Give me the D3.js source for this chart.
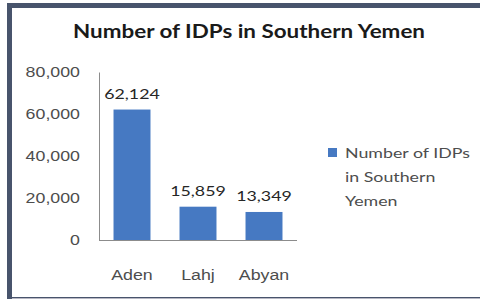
<!DOCTYPE html>
<html>
<head>
<meta charset="utf-8">
<script src="https://cdn.jsdelivr.net/npm/d3@7"></script>
<style>
  html, body { margin: 0; padding: 0; background: #fff; }
  svg { display: block; font-family: Lato, "Open Sans", sans-serif; }
</style>
</head>
<body>
<svg id="chart" width="480" height="299"></svg>
<script>
const categories = ['Aden', 'Lahj', 'Abyan'];
const values = [62124, 15859, 13349];
const yTicks = [0, 20000, 40000, 60000, 80000];
const title = 'Number of IDPs in Southern Yemen';
const legendLines = ['Number of IDPs', 'in Southern', 'Yemen'];

const W = 480, H = 299;
const svg = d3.select('#chart');
const BLUE = '#4679c2';
const TXT = '#4d4d4d';
const WIDEN = 1.27; // the picture is stretched sideways, so widen the glyphs

function widen(sel, k) {
  sel.each(function () {
    const len = this.getComputedTextLength();
    d3.select(this).attr('textLength', len * k).attr('lengthAdjust', 'spacingAndGlyphs');
  });
}

// frame
svg.append('rect').attr('x', 7).attr('y', 3).attr('width', W - 7).attr('height', H - 3).attr('fill', '#48546c');
svg.append('rect').attr('x', 12).attr('y', 8).attr('width', W - 12).attr('height', H - 10).attr('fill', '#fff');
svg.append('line').attr('x1', 12).attr('x2', W).attr('y1', 298.5).attr('y2', 298.5)
  .attr('stroke', '#b8b8c4').attr('stroke-width', 1);

svg.append('text').attr('x', 249).attr('y', 38).attr('text-anchor', 'middle')
  .attr('font-size', 18).attr('font-weight', 'bold').attr('fill', '#1a1a1a')
  .attr('textLength', 352).attr('lengthAdjust', 'spacingAndGlyphs')
  .text(title);

const x = d3.scaleBand().domain(categories).range([99, 297]).paddingInner(0.44).paddingOuter(0.22);
const y = d3.scaleLinear().domain([0, 80000]).range([240, 72]);

const yAxis = svg.append('g').attr('transform', 'translate(99,0)')
  .call(d3.axisLeft(y).tickValues(yTicks).tickSize(0).tickPadding(19).tickFormat(d3.format(',')));
yAxis.select('.domain').attr('stroke', '#8c8c8c');
yAxis.selectAll('text').attr('font-size', 14).attr('fill', TXT).attr('font-family', null).call(widen, WIDEN);

const xAxis = svg.append('g').attr('transform', 'translate(0,240)')
  .call(d3.axisBottom(x).tickSize(0).tickPadding(30));
xAxis.select('.domain').attr('stroke', '#8c8c8c').attr('d', 'M99,0.5H297');
xAxis.selectAll('text').attr('font-size', 14).attr('fill', TXT).attr('font-family', null).call(widen, WIDEN);

svg.append('g').selectAll('rect').data(values).join('rect')
  .attr('x', (d, i) => x(categories[i]))
  .attr('y', (d) => y(d))
  .attr('width', x.bandwidth())
  .attr('height', (d) => y(0) - y(d))
  .attr('fill', BLUE);

svg.append('g').selectAll('text').data(values).join('text')
  .attr('x', (d, i) => x(categories[i]) + x.bandwidth() / 2)
  .attr('y', (d) => y(d) - 11)
  .attr('text-anchor', 'middle')
  .attr('font-size', 14).attr('fill', '#262626')
  .text(d3.format(','))
  .call(widen, WIDEN);

// legend
svg.append('rect').attr('x', 328).attr('y', 148).attr('width', 9).attr('height', 9).attr('fill', BLUE);
svg.append('g').selectAll('text').data(legendLines).join('text')
  .attr('x', 345).attr('y', (d, i) => 158 + i * 24)
  .attr('font-size', 14).attr('fill', TXT)
  .text((d) => d)
  .call(widen, WIDEN);
</script>
</body>
</html>
